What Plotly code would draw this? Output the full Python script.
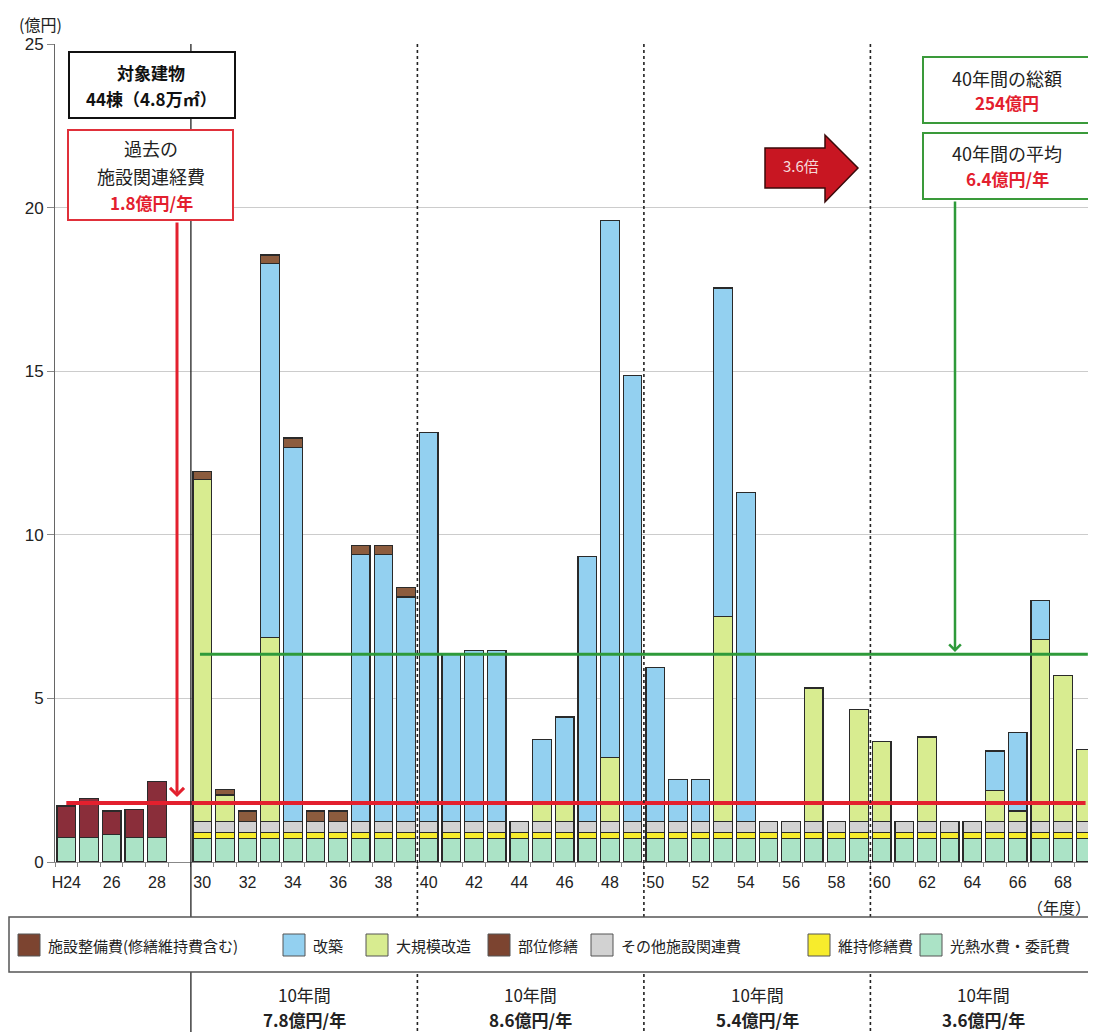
import plotly.graph_objects as go

# ---------------- data ----------------
years = list(range(24, 70))  # H24 .. H69
tick_years = list(range(24, 69, 2))
tick_text = ["H24"] + [str(y) for y in tick_years[1:]]

N = None
# 光熱水費・委託費
utility = [0.75, 0.75, 0.85, 0.75, 0.75, N,
           0.72, 0.72, 0.72, 0.72, 0.72, 0.72, 0.72, 0.72, 0.72, 0.72,
           0.72, 0.72, 0.72, 0.72, 0.72, 0.72, 0.72, 0.72, 0.72, 0.72,
           0.72, 0.72, 0.72, 0.72, 0.72, 0.72, 0.72, 0.72, 0.72, 0.72,
           0.72, 0.72, 0.72, 0.72, 0.72, 0.72, 0.72, 0.72, 0.72, 0.72]
# 維持修繕費
maintenance = [N, N, N, N, N, N,
               0.18, 0.18, 0.18, 0.18, 0.18, 0.18, 0.18, 0.18, 0.18, 0.18,
               0.18, 0.18, 0.18, 0.18, 0.18, 0.18, 0.18, 0.18, 0.18, 0.18,
               0.18, 0.18, 0.18, 0.18, 0.18, 0.18, 0.18, 0.18, 0.18, 0.18,
               0.18, 0.18, 0.18, 0.18, 0.18, 0.18, 0.18, 0.18, 0.18, 0.18]
# その他施設関連費
other = [N, N, N, N, N, N,
         0.35, 0.35, 0.35, 0.35, 0.35, 0.35, 0.35, 0.35, 0.35, 0.35,
         0.35, 0.35, 0.35, 0.35, 0.35, 0.35, 0.35, 0.35, 0.35, 0.35,
         0.35, 0.35, 0.35, 0.35, 0.35, 0.35, 0.35, 0.35, 0.35, 0.35,
         0.35, 0.35, 0.35, 0.35, 0.35, 0.35, 0.35, 0.35, 0.35, 0.35]
# 施設整備費(修繕維持費含む)  H24-H28 実績
facility = [0.96, 1.19, 0.71, 0.86, 1.70, N] + [N] * 40
# 大規模改造
major_renov = [N, N, N, N, N, N,
               10.45, 0.80, N, 5.60, N, N, N, N, N, N,
               N, N, N, N, N, 0.55, 0.55, N, 1.95, N,
               N, N, N, 6.25, N, N, N, 4.07, N, 3.42,
               2.43, N, 2.57, N, N, 0.94, 0.31, 5.56, 4.44, 2.19]
# 改築
rebuild = [N, N, N, N, N, N,
           N, N, N, 11.45, 11.43, N, N, 8.16, 8.16, 6.85,
           11.88, 5.12, 5.22, 5.22, N, 1.95, 2.63, 8.08, 16.40, 13.63,
           4.69, 1.28, 1.28, 10.04, 10.05, N, N, N, N, N,
           N, N, N, N, N, 1.20, 2.39, 1.17, N, N]
# 部位修繕
part_repair = [N, N, N, N, N, N,
               0.23, 0.17, 0.31, 0.25, 0.28, 0.31, 0.31, 0.27, 0.27, 0.29] + [N] * 30

past_avg = 1.8       # 過去の施設関連経費 (億円/年)
future_avg = 6.35    # 40年間の平均 (億円/年)
decade_labels = ["10年間", "10年間", "10年間", "10年間"]
decade_avgs = ["7.8億円/年", "8.6億円/年", "5.4億円/年", "3.6億円/年"]
decade_centers = [34.5, 44.5, 54.5, 64.5]
separators = [29.5, 39.5, 49.5, 59.5]

series = [
    ("光熱水費・委託費", utility, "#ABE3C6"),
    ("維持修繕費", maintenance, "#F7EC2C"),
    ("その他施設関連費", other, "#D2D2D2"),
    ("施設整備費(修繕維持費含む)", facility, "#8A2E3A"),
    ("大規模改造", major_renov, "#D8EC90"),
    ("改築", rebuild, "#93D0F0"),
    ("部位修繕", part_repair, "#8C5C3E"),
]

# ---------------- layout helpers ----------------
OFF = 8                      # page body margin
W, H = 1088, 1024            # figure size
L, R, T = 47, 0, 36
B = H - (862 - OFF)
PW, PH = W - L - R, H - T - B


def px(x):   # reference-picture x -> paper
    return (x - OFF - L) / PW


def py(y):   # reference-picture y -> paper
    return (H - B - (y - OFF)) / PH


JP = "Noto Sans CJK JP"
NUM = "Liberation Sans, Arial, sans-serif"

fig = go.Figure()
for name, vals, col in series:
    fig.add_trace(go.Bar(
        x=years, y=vals, name=name, marker_color=col,
        marker_line=dict(color="#2a2a2a", width=1.2), showlegend=False))

# average lines
fig.add_trace(go.Scatter(x=[24, 69], y=[past_avg, past_avg], mode="lines",
                         line=dict(color="#E3202E", width=4), showlegend=False))
fig.add_trace(go.Scatter(x=[29.9, 69.1], y=[future_avg, future_avg], mode="lines",
                         line=dict(color="#2E9A3A", width=3), showlegend=False))

shapes = []
for i, s in enumerate(separators):
    shapes.append(dict(type="line", xref="x", yref="paper", x0=s, x1=s,
                       y0=1, y1=py(1040), layer="above",
                       line=dict(color="#222", width=1.3 if i == 0 else 1.6,
                                 dash="solid" if i == 0 else "dot")))

# legend box (white, covering separators)
shapes.append(dict(type="rect", xref="paper", yref="paper",
                   x0=px(9), x1=px(1100), y0=py(917), y1=py(972),
                   fillcolor="white", line=dict(color="#555", width=1.5), layer="above"))

legend_items = [
    ("施設整備費(修繕維持費含む)", "#7C4430", 18, 46),
    ("改築", "#93D0F0", 283, 311),
    ("大規模改造", "#D8EC90", 366, 394),
    ("部位修繕", "#7C4430", 488, 516),
    ("その他施設関連費", "#D2D2D2", 591, 619),
    ("維持修繕費", "#F7EC2C", 808, 836),
    ("光熱水費・委託費", "#ABE3C6", 920, 948),
]
annotations = []
for label, col, sx, tx in legend_items:
    shapes.append(dict(type="rect", xref="paper", yref="paper",
                       x0=px(sx), x1=px(sx + 22), y0=py(956), y1=py(934),
                       fillcolor=col, line=dict(color="#555", width=1), layer="above"))
    annotations.append(dict(xref="paper", yref="paper", x=px(tx), y=py(945),
                            xanchor="left", yanchor="middle", showarrow=False,
                            text=label, font=dict(family=JP, size=15, color="#222")))

# annotation boxes
boxes = [
    (69, 235, 52, 118, "#111"),
    (68, 233, 130, 220, "#E0303A"),
    (923, 1091, 57, 123, "#3A9A3A"),
    (923, 1091, 133, 199, "#3A9A3A"),
]
for x0, x1, y0, y1, col in boxes:
    shapes.append(dict(type="rect", xref="paper", yref="paper",
                       x0=px(x0), x1=px(x1), y0=py(y1), y1=py(y0),
                       fillcolor="white", line=dict(color=col, width=2), layer="above"))

# 3.6倍 block arrow
pts = [(765, 148), (825, 148), (825, 135), (858, 168), (825, 202), (825, 188), (765, 188)]
path = "M " + " L ".join(f"{px(a):.5f},{py(b):.5f}" for a, b in pts) + " Z"
shapes.append(dict(type="path", xref="paper", yref="paper", path=path,
                   fillcolor="#C81622", line=dict(color="#3a0a0a", width=1.5), layer="above"))

RED = "#E3202E"


def txt(x, y, text, size=15, color="#222", xanchor="center"):
    return dict(xref="paper", yref="paper", x=px(x), y=py(y), showarrow=False,
                xanchor=xanchor, yanchor="middle", align="center", text=text,
                font=dict(family=JP, size=size, color=color))


annotations += [
    txt(40, 24, "(億円)", 16),
    txt(151, 72, "<b>対象建物</b>", 17, "#111"),
    txt(151, 98, "<b>44棟（4.8万㎡）</b>", 17, "#111"),
    txt(151, 148, "過去の", 18),
    txt(151, 176, "施設関連経費", 18),
    txt(151, 203, "<b>1.8億円/年</b>", 17, RED),
    txt(1007, 78, "40年間の総額", 18),
    txt(1007, 103, "<b>254億円</b>", 17, RED),
    txt(1007, 153, "40年間の平均", 18),
    txt(1007, 178, "<b>6.4億円/年</b>", 17, RED),
    txt(801, 166, "3.6倍", 15, "#F6DADA"),
    txt(1093, 907, "（年度）", 16, "#222", "right"),
    # arrows
    dict(xref="paper", yref="paper", x=px(177), y=py(797), ax=0, ay=-576,
         axref="pixel", ayref="pixel", text="", showarrow=True, arrowhead=4,
         arrowsize=0.9, arrowwidth=3, arrowcolor="#E3202E"),
    dict(xref="paper", yref="paper", x=px(955), y=py(652), ax=0, ay=-452,
         axref="pixel", ayref="pixel", text="", showarrow=True, arrowhead=4,
         arrowsize=0.9, arrowwidth=2.5, arrowcolor="#2E9A3A"),
]
for c, lab, avg in zip(decade_centers, decade_labels, decade_avgs):
    annotations.append(dict(xref="x", yref="paper", x=c, y=py(994), showarrow=False,
                            xanchor="center", yanchor="middle",
                            text=lab, font=dict(family=JP, size=17, color="#222")))
    annotations.append(dict(xref="x", yref="paper", x=c, y=py(1019), showarrow=False,
                            xanchor="center", yanchor="middle",
                            text=f"<b>{avg}</b>", font=dict(family=JP, size=17, color="#222")))

fig.update_layout(
    width=W, height=H, barmode="stack", bargap=0.18,
    margin=dict(l=L, r=R, t=T, b=B, autoexpand=False),
    paper_bgcolor="white", plot_bgcolor="white",
    shapes=shapes, annotations=annotations,
    xaxis=dict(range=[23.5, 23.5 + PW / 22.65], tickmode="array", tickvals=tick_years,
               ticktext=tick_text, ticks="", showline=True, linecolor="#888",
               linewidth=1, showgrid=False, zeroline=False, automargin=False,
               ticklabelstandoff=6,
               tickfont=dict(family=NUM, size=16, color="#222"),
               minor=dict(ticks="outside", tick0=23.5, dtick=1, ticklen=4,
                          tickcolor="#888", showgrid=False)),
    yaxis=dict(range=[0, 25], tickvals=[0, 5, 10, 15, 20, 25], ticks="outside",
               ticklen=7, tickcolor="#888", showline=True, linecolor="#666",
               linewidth=1, gridcolor="#cccccc", gridwidth=1, zeroline=False,
               automargin=False, tickfont=dict(family=NUM, size=17, color="#222")),
)

fig.write_html("out.html")
